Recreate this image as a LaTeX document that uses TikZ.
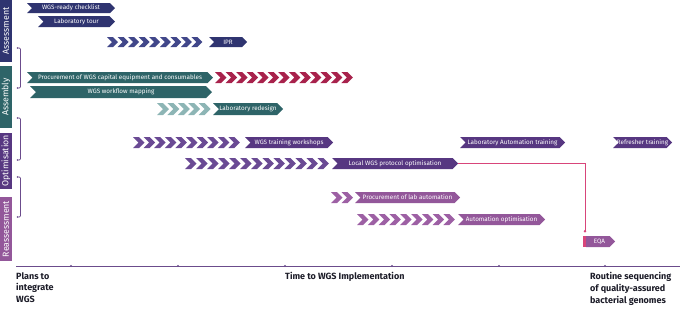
\documentclass[tikz,border=0pt]{standalone}
\usepackage{fontspec}
\setmainfont{Fira Sans}
\usetikzlibrary{arrows.meta}
\definecolor{navy}{HTML}{2F3470}
\definecolor{navyl}{HTML}{41478A}
\definecolor{teal}{HTML}{2E6468}
\definecolor{lteal}{HTML}{8DB5B5}
\definecolor{wred}{HTML}{A8224C}
\definecolor{purp}{HTML}{573781}
\definecolor{purpl}{HTML}{6A4A94}
\definecolor{mauve}{HTML}{93579A}
\definecolor{mauvel}{HTML}{9D60A4}
\definecolor{wpink}{HTML}{D8457A}
\definecolor{axisc}{HTML}{6B4C8C}
\definecolor{txt}{HTML}{1C1C28}
\newcommand\labbar[7]{%
  \pgfmathsetmacro\ym{(#4+#5)/2}%
  \pgfmathsetmacro\dd{(#5-#4)/2}%
  \fill[#6] (#2,#4) -- ({#3-\dd},#4) -- (#3,\ym) -- ({#3-\dd},#5) -- (#2,#5) -- ({#2+\dd},\ym) -- cycle;
  \coordinate (#1-tip) at (#3,\ym);
  \coordinate (#1-tail) at (#2,\ym);
  \node[barlabel] (#1) at ({(#2+#3)/2},\ym) {#7};
}
\newcommand\chevs[6]{%
  \pgfmathsetmacro\ym{(#4+#5)/2}%
  \pgfmathsetmacro\dd{(#5-#4)/2}%
  \foreach \i in {1,...,#2}{%
    \pgfmathsetmacro\xa{#1+(\i-1)*#3}%
    \fill[#6] (\xa,#4) -- ({\xa+6},#4) -- ({\xa+6+\dd},\ym) -- ({\xa+6},#5) -- (\xa,#5) -- ({\xa+\dd},\ym) -- cycle;
  }%
}
\tikzset{
  barlabel/.style={text=white, inner sep=0pt, font=\fontsize{6.3}{7}\selectfont},
  sidebox/.style={rotate=90, text=white, inner sep=0pt, minimum height=12pt, font=\fontsize{8.8}{9}\selectfont},
  brk/.style={axisc, line width=0.7pt, rounded corners=1.2pt},
  axisline/.style={axisc, line width=1pt},
  bottomlbl/.style={text=txt, inner sep=0pt, align=left, font=\bfseries\fontsize{9}{11.8}\selectfont},
  conn/.style={wpink, line width=0.8pt, -{Circle[length=2.4pt]}}
}
\begin{document}
\begin{tikzpicture}[x=1pt,y=-1pt]
\useasboundingbox (0,0) rectangle (680,311);
% side phases
\node[sidebox, fill=navy, minimum width=62pt] (assess) at (6,31) {Assessment};
\node[sidebox, fill=teal, minimum width=62pt] (assem) at (6,97) {Assembly};
\node[sidebox, fill=purp, minimum width=56pt] (optim) at (6,161) {Optimisation};
\node[sidebox, fill=mauve, minimum width=64pt] (reass) at (6,229) {Reassessment};
% brackets
\foreach \a/\b in {48/88,118/160,177/217}{
  \draw[brk] (17.5,\a) -- (20.5,\a) -- (20.5,\b) -- (17.5,\b);
  \fill[axisc] (17.5,\a) circle (0.9);
  \fill[axisc] (17.5,\b) circle (0.9);
}
% assessment
\labbar{check}{27}{115}{3}{13}{navy}{WGS-ready checklist}
\labbar{tour}{38}{115}{16}{27}{navy}{Laboratory tour}
\chevs{107}{9}{10.56}{37}{47}{navyl}
\labbar{ipr}{209}{247}{37}{47}{navy}{IPR}
% assembly
\labbar{proc}{27}{213}{72}{83}{teal}{Procurement of WGS capital equipment and consumables}
\chevs{215}{13}{10.54}{72}{83}{wred}
\labbar{map}{30}{212}{86}{98}{teal}{WGS workflow mapping}
\chevs{157}{5}{10.4}{103}{115}{lteal}
\labbar{redesign}{213}{283}{103}{115}{teal}{Laboratory redesign}
% optimisation
\chevs{133}{10}{10.6}{137}{148}{purpl}
\labbar{train}{245}{333}{137}{148}{purp}{WGS training workshops}
\labbar{labauto}{460}{565}{137}{148}{purp}{Laboratory Automation training}
\labbar{refresh}{613}{672}{137}{148}{purp}{Refresher training}
\chevs{185}{13}{11.04}{158}{169}{purpl}
\labbar{local}{332}{458}{158}{169}{purp}{Local WGS protocol optimisation}
% reassessment
\chevs{331}{2}{10.5}{192}{203}{mauvel}
\labbar{proclab}{355}{460}{192}{203}{mauve}{Procurement of lab automation}
\chevs{357}{9}{10.8}{214}{225}{mauvel}
\labbar{autoopt}{458}{545}{214}{225}{mauve}{Automation optimisation}
% EQA
\fill[mauve] (586,236) -- (609.5,236) -- (615,241.5) -- (609.5,247) -- (586,247) -- cycle;
\fill[wpink] (582.5,236) rectangle (586,247);
\node[barlabel] (eqa) at (599.5,241.5) {EQA};
\coordinate (eqatop) at (585,232.5);
\draw[conn] (local-tip) -| (eqatop);
% axis
\coordinate (axs) at (16,266);
\coordinate (axe) at (680,266);
\draw[axisline] (axs) -- (axe);
\foreach \x in {71,178,285,392,499,605}{\fill[axisc] (\x,266) circle (1.1);}
\node[bottomlbl, anchor=north west] (plans) at (16,272) {Plans to\\integrate\\WGS};
\node[bottomlbl, anchor=north west] (time) at (285,272) {Time to WGS Implementation};
\node[bottomlbl, anchor=north west] (routine) at (590,272) {Routine sequencing\\of quality-assured\\bacterial genomes};
\end{tikzpicture}
\end{document}
